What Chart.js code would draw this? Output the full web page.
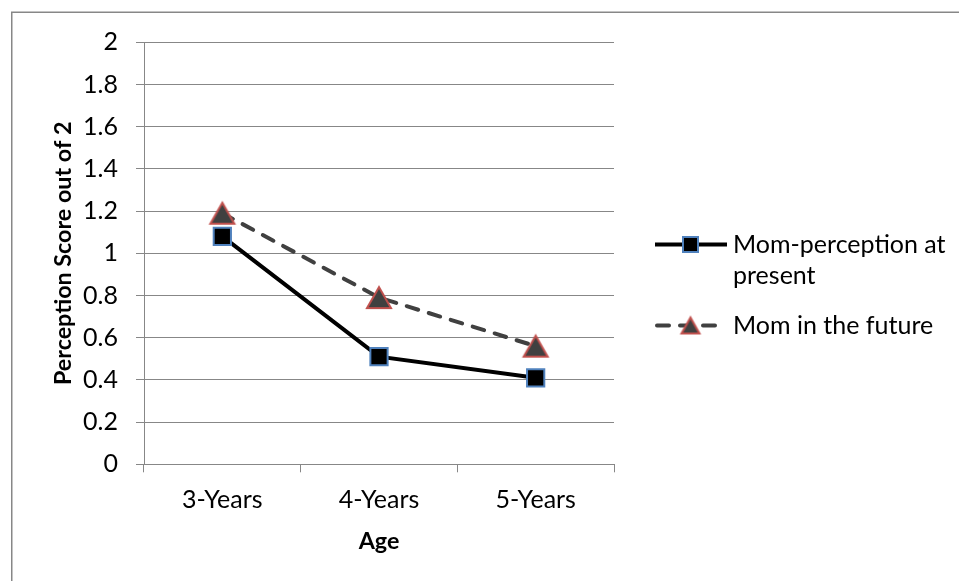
<!DOCTYPE html>
<html>
<head>
<meta charset="utf-8">
<script src="https://cdn.jsdelivr.net/npm/chart.js@4"></script>
<style>
  html, body { margin: 0; padding: 0; background: #ffffff; }
  canvas { display: block; }
</style>
</head>
<body>
<canvas id="chart" width="959" height="581"></canvas>
<script>
// Chart data
const ageGroups = ['3-Years', '4-Years', '5-Years'];
const momPresent = [1.08, 0.51, 0.41];
const momFuture = [1.19, 0.79, 0.56];
const seriesNames = ['Mom-perception at present', 'Mom in the future'];
const yTickLabels = ['0', '0.2', '0.4', '0.6', '0.8', '1', '1.2', '1.4', '1.6', '1.8', '2'];
const yAxisTitle = 'Perception Score out of 2';
const xAxisTitle = 'Age';

// Styling
const FONT = 'Lato, "Open Sans", sans-serif';
const FS = 25;
const FS_TITLE = 23.3;
const GRID = '#878787';
const DASH = [12, 11];

// Triangle marker drawn inside its own box so the box centre sits on the point
function triangleMarker(w, h, fill, stroke, lw) {
  const pad = 3;
  const c = document.createElement('canvas');
  c.width = Math.ceil(w + 2 * pad);
  c.height = Math.ceil(h + 2 * pad);
  const g = c.getContext('2d');
  const cx = c.width / 2, cy = c.height / 2;
  g.beginPath();
  g.moveTo(cx, cy - h / 2);
  g.lineTo(cx + w / 2, cy + h / 2);
  g.lineTo(cx - w / 2, cy + h / 2);
  g.closePath();
  g.fillStyle = fill;
  g.fill();
  g.lineWidth = lw;
  g.strokeStyle = stroke;
  g.lineJoin = 'miter';
  g.stroke();
  return c;
}

const triBig = triangleMarker(24, 21, '#404040', '#c0504d', 2);
const triSmall = triangleMarker(18, 16, '#404040', '#c0504d', 2);

// White background and the outer frame
const frame = {
  id: 'frame',
  beforeDraw(chart) {
    const ctx = chart.ctx;
    ctx.save();
    ctx.fillStyle = '#ffffff';
    ctx.fillRect(0, 0, chart.width, chart.height);
    ctx.strokeStyle = GRID;
    ctx.lineWidth = 1.5;
    ctx.strokeRect(11.75, 12.25, chart.width + 20, chart.height + 20);
    ctx.restore();
  }
};

function wrapText(ctx, text, maxWidth) {
  const words = text.split(' ');
  const lines = [];
  let cur = '';
  for (const w of words) {
    const t = cur ? cur + ' ' + w : w;
    if (cur && ctx.measureText(t).width > maxWidth) {
      lines.push(cur);
      cur = w;
    } else {
      cur = t;
    }
  }
  if (cur) lines.push(cur);
  return lines;
}

// Legend on the right: line sample with marker, wrapped label
const sideLegend = {
  id: 'sideLegend',
  afterDraw(chart) {
    const ctx = chart.ctx;
    const area = chart.chartArea;
    const x0 = area.right + 41;
    const textX = area.right + 119;
    const lineH = 31;
    let y = 244.5;
    ctx.save();
    ctx.font = FS + 'px ' + FONT;
    chart.data.datasets.forEach((ds, i) => {
      const dashed = ds.borderDash && ds.borderDash.length;
      const x1 = dashed ? area.right + 104 : area.right + 113;
      ctx.strokeStyle = ds.borderColor;
      ctx.lineWidth = ds.borderWidth;
      ctx.lineCap = dashed ? 'round' : 'butt';
      ctx.setLineDash(ds.borderDash || []);
      ctx.beginPath();
      ctx.moveTo(x0 + (dashed ? 2 : 0), y);
      ctx.lineTo(x1, y);
      ctx.stroke();
      ctx.setLineDash([]);
      const mx = area.right + 76.5;
      if (i === 0) {
        ctx.fillStyle = ds.pointBackgroundColor;
        ctx.fillRect(mx - 7.5, y - 7.5, 15, 15);
        ctx.strokeStyle = ds.pointBorderColor;
        ctx.lineWidth = 2;
        ctx.strokeRect(mx - 7.5, y - 7.5, 15, 15);
      } else {
        ctx.drawImage(triSmall, mx - triSmall.width / 2, y - triSmall.height / 2);
      }
      ctx.fillStyle = '#000000';
      ctx.textBaseline = 'alphabetic';
      ctx.textAlign = 'left';
      const lines = wrapText(ctx, ds.label, 222);
      lines.forEach((ln, k) => ctx.fillText(ln, textX, y + 8.5 + k * lineH));
      y += lines.length * lineH + 19;
    });
    ctx.restore();
  }
};

new Chart(document.getElementById('chart'), {
  type: 'line',
  data: {
    labels: ageGroups,
    datasets: [
      {
        label: seriesNames[0],
        data: momPresent,
        borderColor: '#000000',
        borderWidth: 4,
        pointStyle: 'rect',
        pointRadius: 12.2,
        pointBackgroundColor: '#000000',
        pointBorderColor: '#4f81bd',
        pointBorderWidth: 2,
        tension: 0
      },
      {
        label: seriesNames[1],
        data: momFuture,
        borderColor: '#404040',
        borderWidth: 4,
        borderDash: DASH,
        borderCapStyle: 'round',
        pointStyle: triBig,
        pointRadius: 12,
        pointBackgroundColor: '#404040',
        pointBorderColor: '#c0504d',
        tension: 0
      }
    ]
  },
  options: {
    responsive: false,
    animation: false,
    devicePixelRatio: 1,
    events: [],
    layout: { padding: { left: 0, top: 42.3, right: 345, bottom: 0 } },
    plugins: {
      legend: { display: false },
      tooltip: { enabled: false },
      title: { display: false }
    },
    scales: {
      x: {
        type: 'category',
        offset: true,
        grid: { offset: true, drawOnChartArea: false, drawTicks: true, tickLength: 8, color: GRID, lineWidth: 1 },
        border: { color: GRID, width: 1 },
        ticks: { color: '#000000', font: { family: FONT, size: FS }, padding: 13, maxRotation: 0, autoSkip: false },
        title: {
          display: true, text: xAxisTitle, color: '#000000',
          font: { family: FONT, size: FS_TITLE, weight: 'bold' },
          padding: { top: 0, bottom: 25.5 }
        },
        afterFit(s) { s.height = 116.7; }
      },
      y: {
        min: 0,
        max: 2,
        ticks: {
          stepSize: 0.2,
          color: '#000000',
          font: { family: FONT, size: FS },
          padding: 18,
          callback: (v, i) => yTickLabels[i]
        },
        grid: { color: GRID, lineWidth: 1, tickLength: 8 },
        border: { color: GRID, width: 1 },
        title: {
          display: true, text: yAxisTitle, color: '#000000',
          font: { family: FONT, size: FS_TITLE, weight: 'bold' },
          padding: { top: 49.5, bottom: 0 }
        },
        afterFit(s) { s.width = 144; }
      }
    }
  },
  plugins: [frame, sideLegend]
});
</script>
</body>
</html>
